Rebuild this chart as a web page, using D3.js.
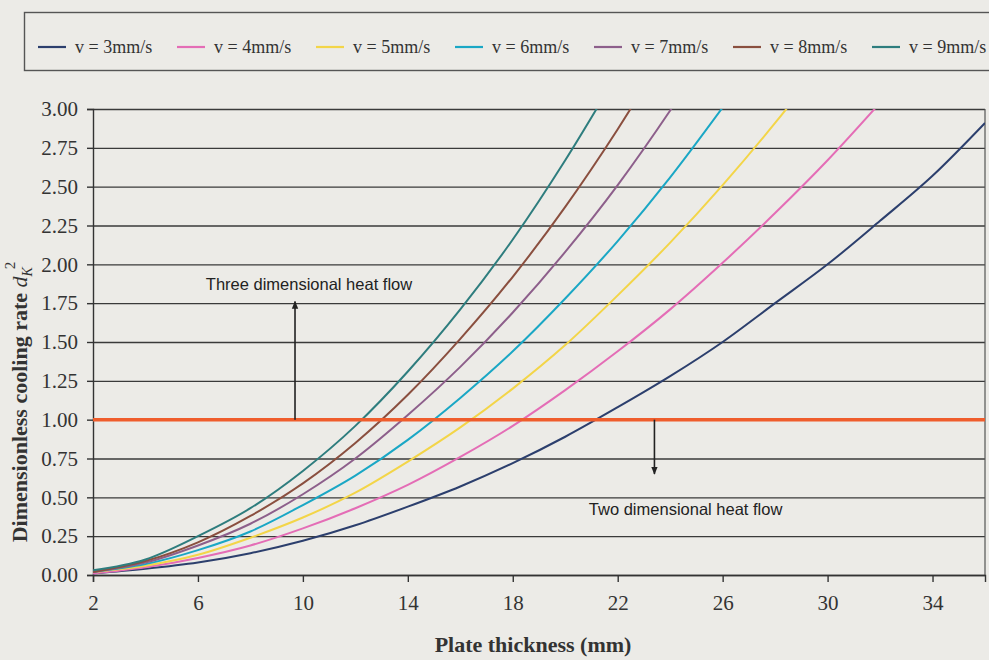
<!DOCTYPE html>
<html>
<head>
<meta charset="utf-8">
<script src="https://cdn.jsdelivr.net/npm/d3@7"></script>
<style>
  body { margin: 0; background: #ecebe7; }
  svg { display: block; }
</style>
</head>
<body>
<div id="chart"></div>
<script>
// plate thickness (mm), read every 2 mm
const thickness = [2, 4, 6, 8, 10, 12, 14, 16, 18, 20, 22, 24, 26, 28, 30, 32, 34, 36];

// dimensionless cooling rate
const v3 = [0.01, 0.04, 0.08, 0.14, 0.22, 0.32, 0.44, 0.57, 0.72, 0.89, 1.08, 1.28, 1.50, 1.75, 2.00, 2.28, 2.57, 2.91];
const v4 = [0.01, 0.05, 0.11, 0.19, 0.30, 0.43, 0.58, 0.76, 0.96, 1.19, 1.44, 1.71, 2.01, 2.33, 2.67, 3.04];
const v5 = [0.02, 0.06, 0.13, 0.24, 0.37, 0.53, 0.73, 0.95, 1.20, 1.48, 1.80, 2.14, 2.51, 2.91, 3.34];
const v6 = [0.02, 0.07, 0.16, 0.28, 0.45, 0.64, 0.87, 1.14, 1.44, 1.78, 2.15, 2.56, 3.01];
const v7 = [0.02, 0.08, 0.19, 0.33, 0.52, 0.75, 1.03, 1.34, 1.69, 2.08, 2.51, 2.99, 3.51];
const v8 = [0.02, 0.09, 0.21, 0.38, 0.59, 0.85, 1.16, 1.52, 1.92, 2.37, 2.87, 3.42];
const v9 = [0.03, 0.10, 0.25, 0.43, 0.67, 0.96, 1.31, 1.71, 2.16, 2.67, 3.23];

const seriesNames = ['v = 3mm/s', 'v = 4mm/s', 'v = 5mm/s', 'v = 6mm/s', 'v = 7mm/s', 'v = 8mm/s', 'v = 9mm/s'];
const seriesValues = [v3, v4, v5, v6, v7, v8, v9];
const seriesColors = ['#2c3f6d', '#e46db6', '#f3d548', '#1aa7c5', '#8d5f8b', '#8a4f3f', '#2e7d7e'];

const xTicks = [2, 6, 10, 14, 18, 22, 26, 30, 34];
const yTicks = [0, 0.25, 0.5, 0.75, 1, 1.25, 1.5, 1.75, 2, 2.25, 2.5, 2.75, 3];
const boundary = 1.0;

const width = 989, height = 660;
const margin = {top: 109, right: 4, bottom: 85, left: 93};
const w = width - margin.left - margin.right;
const h = height - margin.top - margin.bottom;

const x = d3.scaleLinear().domain([2, 36]).range([0, w]);
const y = d3.scaleLinear().domain([0, 3]).range([h, 0]);

const svg = d3.select('#chart')
  .append('svg')
    .attr('width', width)
    .attr('height', height);

// legend
const legend = svg.append('g').attr('class', 'legend');
legend.append('rect')
  .attr('x', 24.5).attr('y', 12.5)
  .attr('width', 980).attr('height', 58)
  .attr('fill', 'none')
  .attr('stroke', '#555')
  .attr('stroke-width', 1.4);
seriesNames.forEach((name, i) => {
  let gx = 38 + i * 139;
  legend.append('line')
    .attr('x1', gx).attr('x2', gx + 28)
    .attr('y1', 47).attr('y2', 47)
    .attr('stroke', seriesColors[i])
    .attr('stroke-width', 2.2);
  legend.append('text')
    .attr('x', gx + 37).attr('y', 53)
    .style('font', '18px "Liberation Serif", serif')
    .style('fill', '#333')
    .text(name);
});

const g = svg.append('g')
  .attr('transform', `translate(${margin.left},${margin.top})`);

// gridlines
g.append('g')
  .attr('class', 'grid')
  .call(d3.axisLeft(y).tickValues(yTicks).tickSize(-w).tickFormat(''))
  .call(s => s.select('.domain').remove())
  .call(s => s.selectAll('line').attr('stroke', '#3a3a3a').attr('stroke-width', 1.3));

// plot border (right side)
g.append('line')
  .attr('x1', w).attr('x2', w).attr('y1', 0).attr('y2', h)
  .attr('stroke', '#555').attr('stroke-width', 1.2);

// axes
let yAxis = g.append('g')
  .call(d3.axisLeft(y).tickValues(yTicks).tickSize(6).tickPadding(9).tickFormat(d3.format('.2f')));
let xAxis = g.append('g')
  .attr('transform', `translate(0,${h})`)
  .call(d3.axisBottom(x).tickValues(xTicks).tickSize(7).tickPadding(13).tickFormat(d3.format('d')));
[xAxis, yAxis].forEach(a => {
  a.selectAll('path, line').attr('stroke', '#333').attr('stroke-width', 1.4);
  a.selectAll('text')
    .style('font', '21px "Liberation Serif", serif')
    .style('fill', '#333');
});

// clip for curves leaving the top
g.append('clipPath').attr('id', 'plot-clip')
  .append('rect').attr('x', 0).attr('y', 0).attr('width', w).attr('height', h);

const line = d3.line()
  .x(d => x(d[0]))
  .y(d => y(d[1]))
  .curve(d3.curveMonotoneX);

g.append('g')
  .attr('clip-path', 'url(#plot-clip)')
  .selectAll('path')
  .data(seriesValues)
  .enter()
  .append('path')
    .attr('d', vals => line(vals.map((v, i) => [thickness[i], v])))
    .attr('fill', 'none')
    .attr('stroke', (d, i) => seriesColors[i])
    .attr('stroke-width', 2);

// 2D / 3D boundary
g.append('line')
  .attr('x1', x(2)).attr('x2', x(36))
  .attr('y1', y(boundary)).attr('y2', y(boundary))
  .attr('stroke', '#ef5d2c')
  .attr('stroke-width', 3.5);

// annotations
svg.append('defs').append('marker')
  .attr('id', 'arrow')
  .attr('viewBox', '0 0 10 10')
  .attr('refX', 9).attr('refY', 5)
  .attr('markerWidth', 5).attr('markerHeight', 5)
  .attr('orient', 'auto')
  .append('path').attr('d', 'M0,1L10,5L0,9z').attr('fill', '#222');

function arrow(xv, y0, y1) {
  g.append('line')
    .attr('x1', x(xv)).attr('x2', x(xv))
    .attr('y1', y(y0)).attr('y2', y(y1))
    .attr('stroke', '#222')
    .attr('stroke-width', 1.6)
    .attr('marker-end', 'url(#arrow)');
}
arrow(9.7, boundary, 1.76);
arrow(23.4, boundary, 0.65);

function note(xv, yv, txt) {
  g.append('text')
    .attr('x', x(xv)).attr('y', y(yv))
    .attr('dy', '0.35em')
    .style('font', '16.5px "Liberation Sans", Arial, sans-serif')
    .style('fill', '#222')
    .text(txt);
}
note(6.3, 1.87, 'Three dimensional heat flow');
note(20.9, 0.425, 'Two dimensional heat flow');

// axis titles
svg.append('text')
  .attr('x', 533).attr('y', 652)
  .attr('text-anchor', 'middle')
  .style('font', 'bold 22px "Liberation Serif", serif')
  .style('fill', '#333')
  .text('Plate thickness (mm)');

let yt = svg.append('text')
  .attr('transform', 'translate(27,402) rotate(-90)')
  .attr('text-anchor', 'middle')
  .style('font', 'bold 22px "Liberation Serif", serif')
  .style('fill', '#333');
yt.append('tspan').text('Dimensionless cooling rate  ');
yt.append('tspan').style('font-weight', 'normal').style('font-style', 'italic').text('d');
yt.append('tspan').attr('dy', 5).attr('font-size', 14).style('font-weight', 'normal').style('font-style', 'italic').text('K');
yt.append('tspan').attr('dy', -17).attr('dx', -2).attr('font-size', 15).style('font-weight', 'normal').text('2');
</script>
</body>
</html>
